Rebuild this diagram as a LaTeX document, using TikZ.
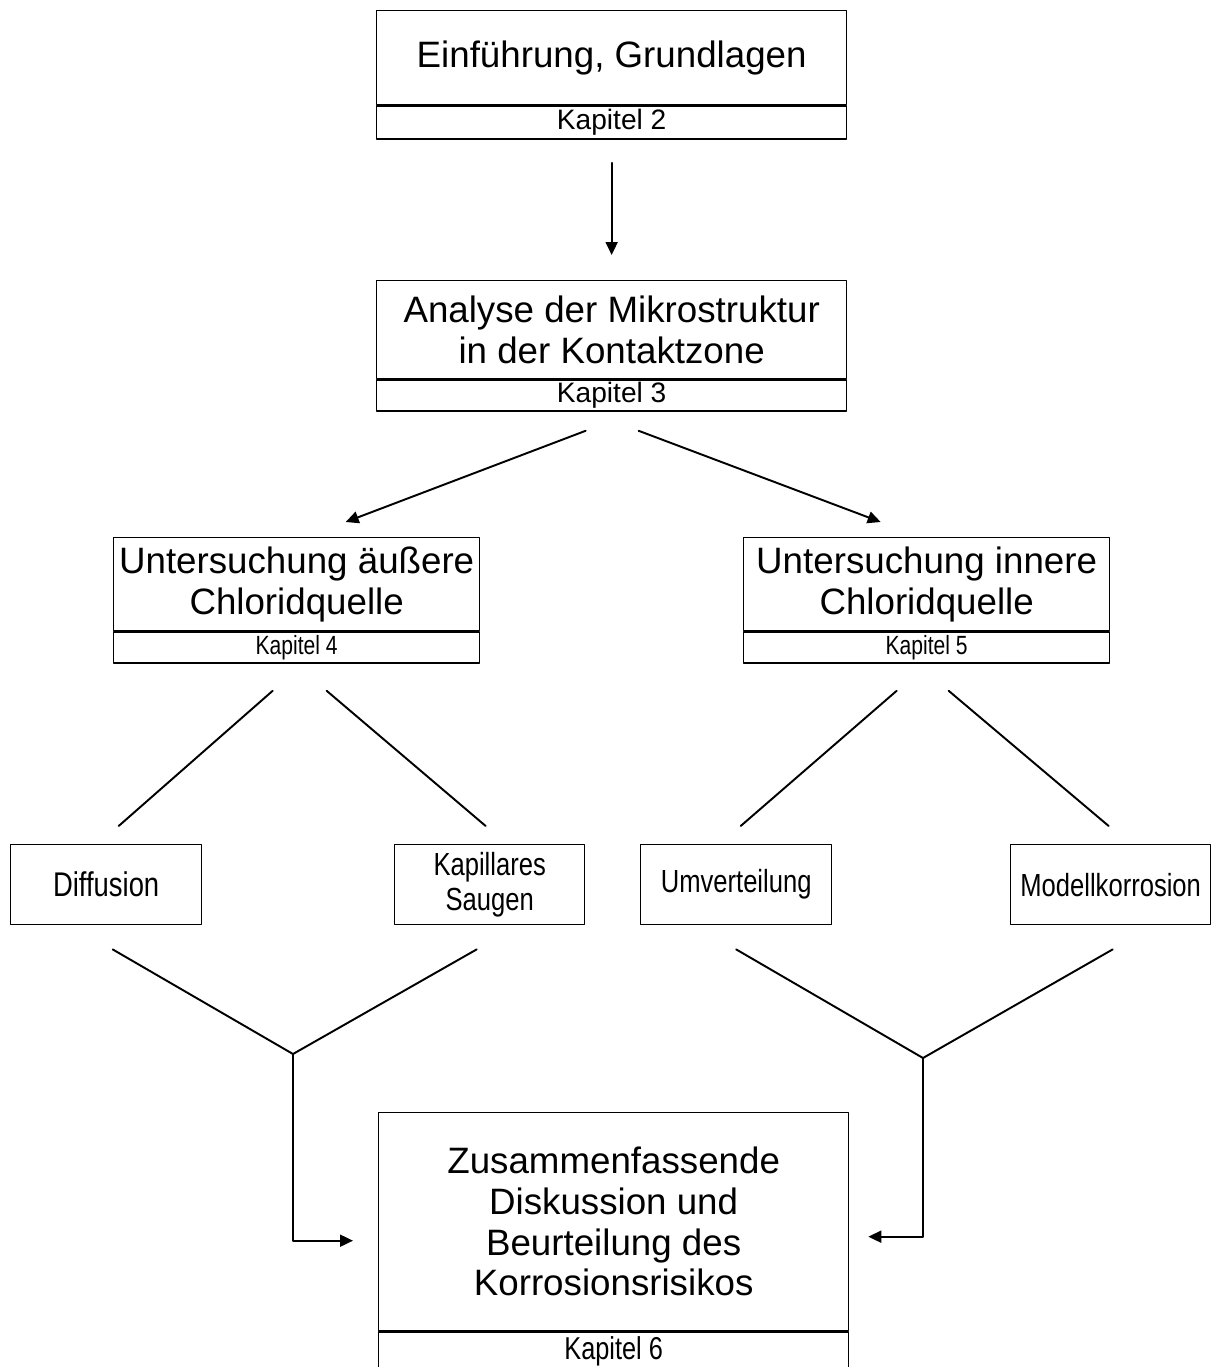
\documentclass[tikz,border=0pt]{standalone}
\usepackage{fontspec}
\setmainfont{Liberation Sans}
\newfontfamily\schmal[FakeStretch=0.8]{Liberation Sans}
\usetikzlibrary{positioning,arrows.meta,calc}

\begin{document}
\begin{tikzpicture}[x=0.02cm, y=-0.02cm, line join=round, line cap=round,
        kasten/.style={draw, line width=0.8pt, inner sep=0pt, align=center,
            anchor=north west, font=\fontsize{20.9}{23.2}\selectfont},
        kapitel/.style={draw, line width=0.8pt, inner sep=0pt,
            font=\fontsize{16}{18}\selectfont},
        kapschmal/.style={kapitel, font=\schmal\fontsize{15}{17}\selectfont},
        thema/.style={kasten, minimum width=3.82cm, minimum height=1.6cm,
            font=\schmal\fontsize{18.2}{20.4}\selectfont},
        linie/.style={line width=1.1pt},
        pfeil/.style={linie, -{Triangle[length=0.26cm, width=0.24cm]}}]
        \useasboundingbox (0,0) rectangle (1211,1367);
        
        % Kapitel 2 und 3
        \node[kasten, minimum width=9.4cm, minimum height=1.88cm] (grund) at (376,10)
            {Einführung, Grundlagen};
        \node[kapitel, below=0pt of grund, minimum width=9.4cm, minimum height=0.66cm] (kap2) {Kapitel 2};
        \node[kasten, minimum width=9.4cm, minimum height=1.96cm] (mikro) at (376,280)
            {Analyse der Mikrostruktur\\in der Kontaktzone};
        \node[kapitel, below=0pt of mikro, minimum width=9.4cm, minimum height=0.62cm] (kap3) {Kapitel 3};
        
        % Kapitel 4 und 5
        \node[kasten, minimum width=7.32cm, minimum height=1.86cm] (aussen) at (113,537)
            {Untersuchung äußere\\Chloridquelle};
        \node[kapschmal, below=0pt of aussen, minimum width=7.32cm, minimum height=0.62cm] (kap4) {Kapitel 4};
        \node[kasten, minimum width=7.32cm, minimum height=1.86cm] (innen) at (743,537)
            {Untersuchung innere\\Chloridquelle};
        \node[kapschmal, below=0pt of innen, minimum width=7.32cm, minimum height=0.62cm] (kap5) {Kapitel 5};
        
        \node[thema, font=\schmal\fontsize{19.5}{20.4}\selectfont] (diff) at (10,844) {Diffusion};
        \node[thema, minimum width=3.8cm] (saug) at (394,844) {Kapillares\\Saugen};
        \node[thema] (umv) at (640,844) {Umverteilung};
        \node[thema, minimum width=4cm] (modell) at (1010,844) {Modellkorrosion};
        
        % Kapitel 6
        \node[kasten, minimum width=9.4cm, minimum height=4.36cm] (fazit) at (378,1112)
            {Zusammenfassende\\Diskussion und\\Beurteilung des\\Korrosionsrisikos};
        \node[kapitel, below=0pt of fazit, minimum width=9.4cm, minimum height=0.76cm,
            font=\schmal\fontsize{18}{20}\selectfont] (kap6) {Kapitel 6};
        
        \draw[pfeil, shorten <=0.46cm, shorten >=0.5cm] (kap2) -- (mikro);
        \draw[pfeil] ($(kap3.south)+(-26,19)$) -- ($(aussen.north)+(49,-15)$);
        \draw[pfeil] ($(kap3.south)+(27,19)$) -- ($(innen.north)+(-46,-15)$);
        
        \draw[linie] ($(kap4.south)+(-24,27)$) -- ($(diff.north)+(12.5,-18)$);
        \draw[linie] ($(kap4.south)+(30,27)$) -- ($(saug.north)+(-4,-18)$);
        \draw[linie] ($(kap5.south)+(-30,27)$) -- ($(umv.north)+(4.5,-18)$);
        \draw[linie] ($(kap5.south)+(22,27)$) -- ($(modell.north)+(-2,-18)$);
        
        \coordinate (jl) at (293,1054);
        \coordinate (jr) at (923,1058);
        \draw[linie] ($(diff.south)+(6.5,24)$) -- (jl) -- ($(saug.south)+(-13,24)$);
        \draw[pfeil] (jl) |- ($(fazit.west)+(-25,19)$);
        \draw[linie] ($(umv.south)+(0,24)$) -- (jr) -- ($(modell.south)+(2,24)$);
        \draw[pfeil] (jr) |- ($(fazit.east)+(19,15)$);
        
    \end{tikzpicture}
\end{document}
